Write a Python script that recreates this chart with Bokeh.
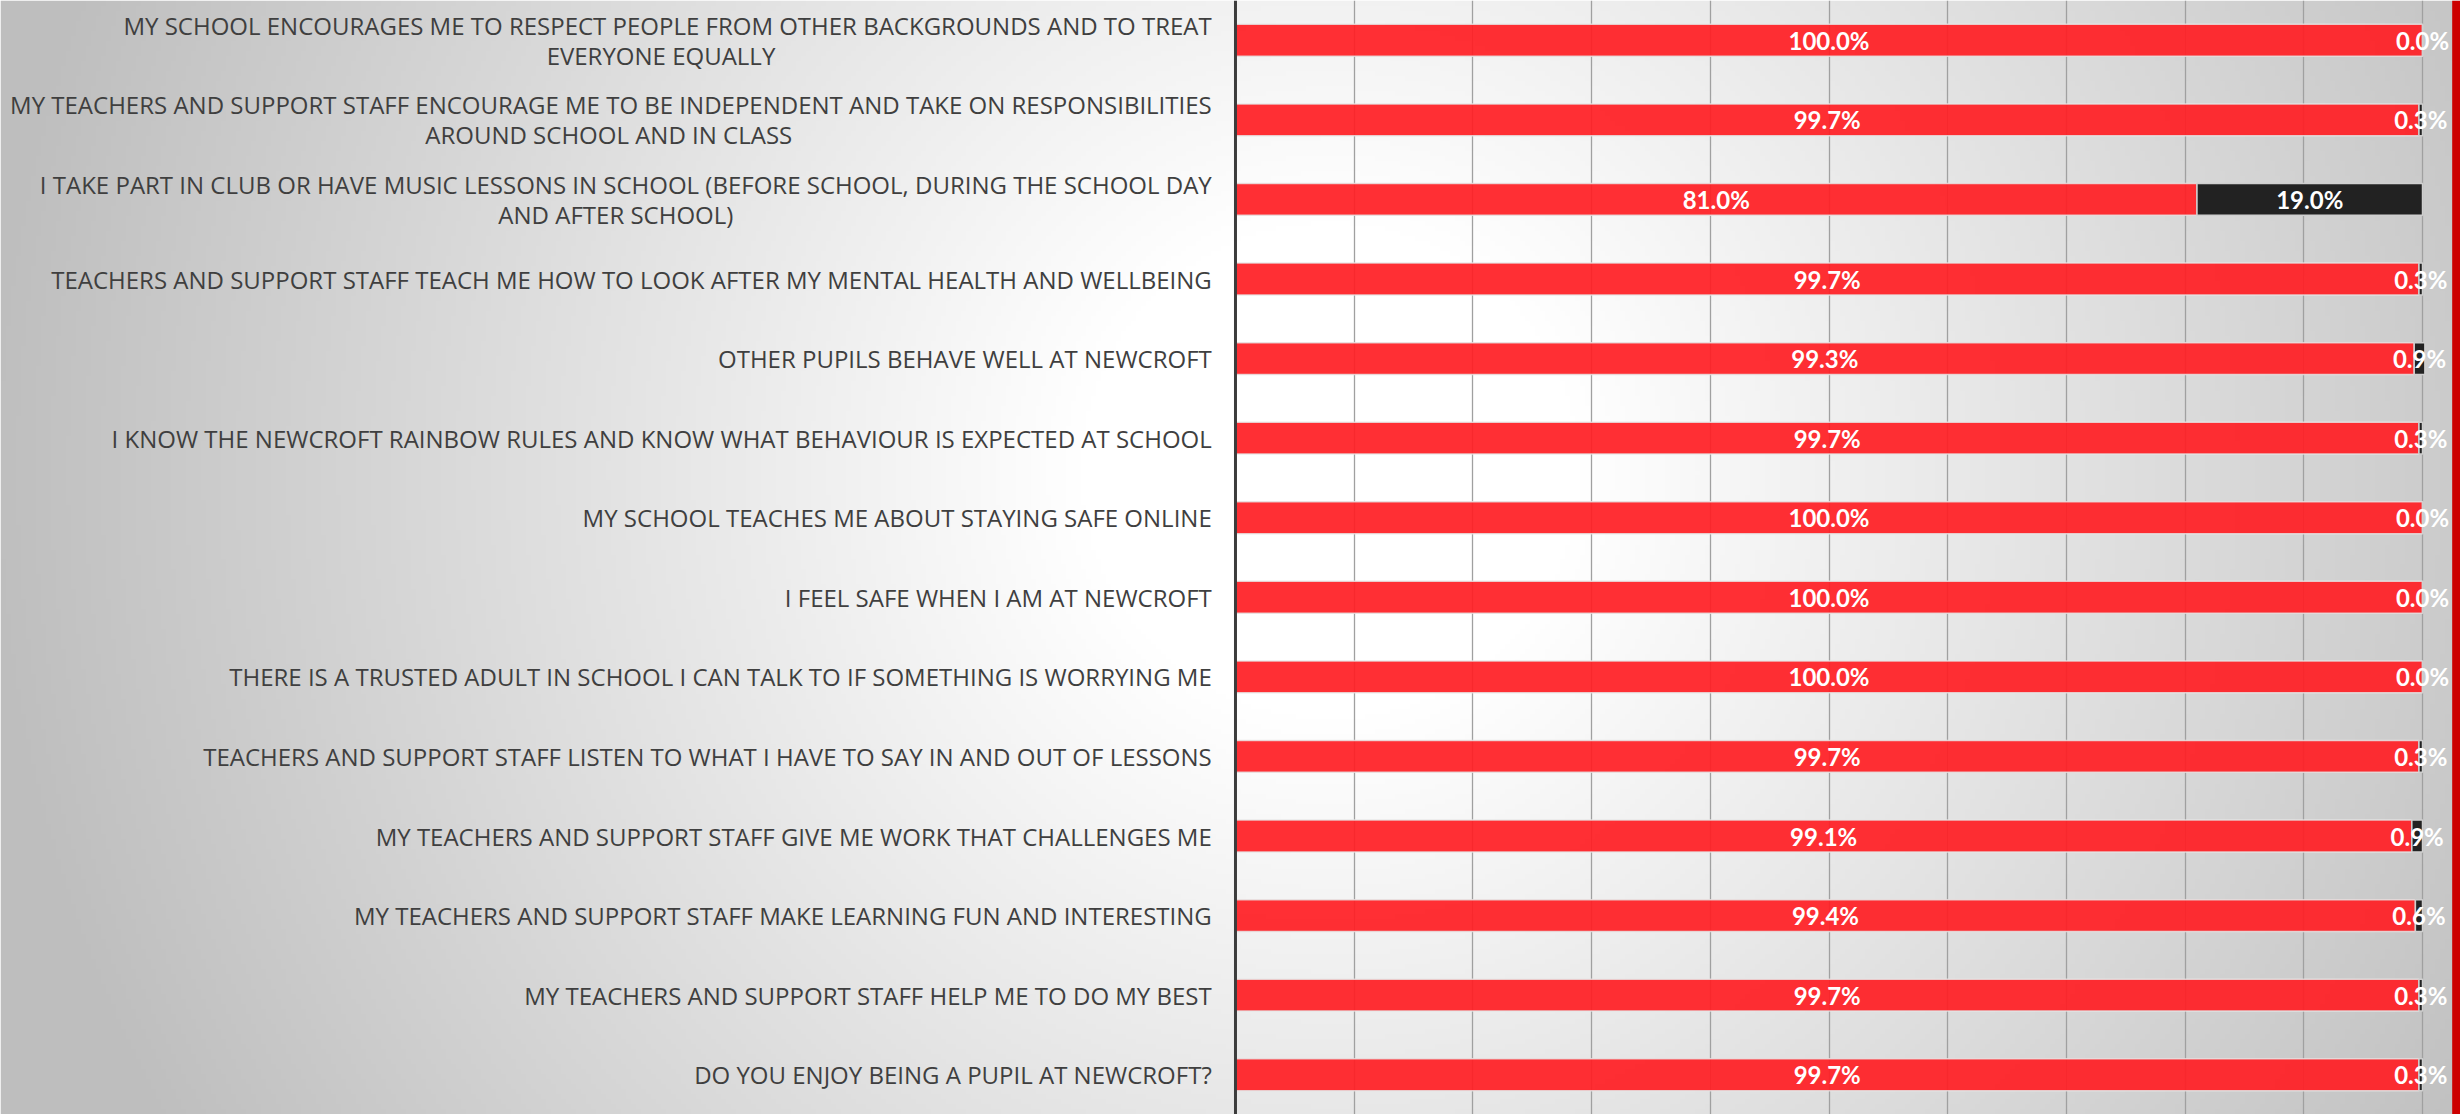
import numpy as np
from bokeh.plotting import figure
from bokeh.models import ColumnDataSource, Range1d, FactorRange, Span, Grid, FixedTicker, BoxAnnotation
from bokeh.core.properties import value
from bokeh.embed import file_html
from bokeh.resources import INLINE

# ---------------- data (top to bottom) ----------------
questions = [
    "MY SCHOOL ENCOURAGES ME TO RESPECT PEOPLE FROM OTHER BACKGROUNDS AND TO TREAT\nEVERYONE EQUALLY",
    "MY TEACHERS AND SUPPORT STAFF ENCOURAGE ME TO BE INDEPENDENT AND TAKE ON RESPONSIBILITIES\nAROUND SCHOOL AND IN CLASS",
    "I TAKE PART IN CLUB OR HAVE MUSIC LESSONS IN SCHOOL (BEFORE SCHOOL, DURING THE SCHOOL DAY\nAND AFTER SCHOOL)",
    "TEACHERS AND SUPPORT STAFF TEACH ME HOW TO LOOK AFTER MY MENTAL HEALTH AND WELLBEING",
    "OTHER PUPILS BEHAVE WELL AT NEWCROFT",
    "I KNOW THE NEWCROFT RAINBOW RULES AND KNOW WHAT BEHAVIOUR IS EXPECTED AT SCHOOL",
    "MY SCHOOL TEACHES ME ABOUT STAYING SAFE ONLINE",
    "I FEEL SAFE WHEN I AM AT NEWCROFT",
    "THERE IS A TRUSTED ADULT IN SCHOOL I CAN TALK TO IF SOMETHING IS WORRYING ME",
    "TEACHERS AND SUPPORT STAFF LISTEN TO WHAT I HAVE TO SAY IN AND OUT OF LESSONS",
    "MY TEACHERS AND SUPPORT STAFF GIVE ME WORK THAT CHALLENGES ME",
    "MY TEACHERS AND SUPPORT STAFF MAKE LEARNING FUN AND INTERESTING",
    "MY TEACHERS AND SUPPORT STAFF HELP ME TO DO MY BEST",
    "DO YOU ENJOY BEING A PUPIL AT NEWCROFT?",
]
yes_pct = [100.0, 99.7, 81.0, 99.7, 99.3, 99.7, 100.0, 100.0, 100.0, 99.7, 99.1, 99.4, 99.7, 99.7]
no_pct = [0.0, 0.3, 19.0, 0.3, 0.9, 0.3, 0.0, 0.0, 0.0, 0.3, 0.9, 0.6, 0.3, 0.3]
grid_ticks = [10, 20, 30, 40, 50, 60, 70, 80, 90, 100]

# ---------------- layout / style ----------------
X_START, X_END = -104.04, 103.2
LABEL_RIGHT = -2.0
LINE2_CENTER = {0: -48.4, 1: -52.8, 2: -52.2}
RED = "#ff1f25"
BLACK = "#222222"

p = figure(width=2460, height=1114,
           x_range=Range1d(X_START, X_END),
           y_range=FactorRange(factors=questions[::-1], range_padding=0),
           x_axis_location=None, y_axis_location=None,
           output_backend="svg", toolbar_location=None,
           min_border=0, outline_line_color=None,
           background_fill_color="#ffffff", border_fill_color="#ffffff")
p.xgrid.visible = False
p.ygrid.visible = False

# background radial gradient (decoration)
nx, ny = 492, 223
gx = np.linspace(0, 2460, nx)
gy = np.linspace(1114, 0, ny)
GX, GY = np.meshgrid(gx, gy)
dist = np.hypot(GX - 1330, GY - 470)
tt = np.clip((dist - 250) / 1100, 0, 1)
vv = (255 - 65 * tt).astype(np.uint8)
img = np.empty((ny, nx), dtype=np.uint32)
view = img.view(dtype=np.uint8).reshape((ny, nx, 4))
view[..., 0] = vv
view[..., 1] = vv
view[..., 2] = vv
view[..., 3] = 255
p.image_rgba(image=[img], x=X_START, y=0, dw=X_END - X_START, dh=len(questions), level="image")

p.add_layout(Grid(dimension=0, ticker=FixedTicker(ticks=grid_ticks),
                  grid_line_color="#a0a0a0", grid_line_width=1.3))

yes_end = list(yes_pct)
no_end = [a + b for a, b in zip(yes_pct, no_pct)]
src = ColumnDataSource(dict(
    q=questions, yes=yes_pct, no=no_pct,
    yes_end=yes_end, no_end=no_end,
    yes_mid=[a / 2 for a in yes_pct],
    no_mid=[a + b / 2 for a, b in zip(yes_pct, no_pct)],
    yes_lbl=[f"{a:.1f}%" for a in yes_pct],
    no_lbl=[f"{b:.1f}%" for b in no_pct],
))

p.hbar(y="q", left=0, right="yes_end", height=0.4, source=src,
       fill_color=RED, fill_alpha=0.93, line_color="#e6e6e6", line_alpha=0.8, line_width=1.5)
p.hbar(y="q", left="yes_end", right="no_end", height=0.4, source=src,
       fill_color=BLACK, fill_alpha=1.0, line_color="#cfcfcf", line_width=1.5)

p.add_layout(Span(location=0, dimension="height", line_color="#3c3c3c", line_width=3))
p.add_layout(BoxAnnotation(left=102.5, fill_color="#cc0000", fill_alpha=1.0, line_alpha=0))

lbl_kw = dict(text_color="white", text_font=value("Lato"), text_font_style="bold",
              text_font_size=value("24px"), text_align="center", text_baseline="middle")
p.text(x="yes_mid", y="q", text="yes_lbl", source=src, **lbl_kw)
p.text(x="no_mid", y="q", text="no_lbl", source=src, **lbl_kw)

# category labels
single = dict(x=[], y=[], t=[])
l1 = dict(x=[], y=[], t=[])
l2 = dict(x=[], y=[], t=[])
for i, q in enumerate(questions):
    parts = q.split("\n")
    if len(parts) == 1:
        single["x"].append(LABEL_RIGHT); single["y"].append(q); single["t"].append(parts[0])
    else:
        l1["x"].append(LABEL_RIGHT); l1["y"].append(q); l1["t"].append(parts[0])
        l2["x"].append(LINE2_CENTER[i]); l2["y"].append(q); l2["t"].append(parts[1])

cat_kw = dict(text_color="#3f3f3f", text_font=value("Open Sans"),
              text_font_size=value("24px"), text_baseline="middle")
p.text(x="x", y="y", text="t", source=ColumnDataSource(single), text_align="right", **cat_kw)
p.text(x="x", y="y", text="t", source=ColumnDataSource(l1), text_align="right", y_offset=-15, **cat_kw)
p.text(x="x", y="y", text="t", source=ColumnDataSource(l2), text_align="center", y_offset=15, **cat_kw)

open("out.html", "w").write(file_html(p, INLINE))
